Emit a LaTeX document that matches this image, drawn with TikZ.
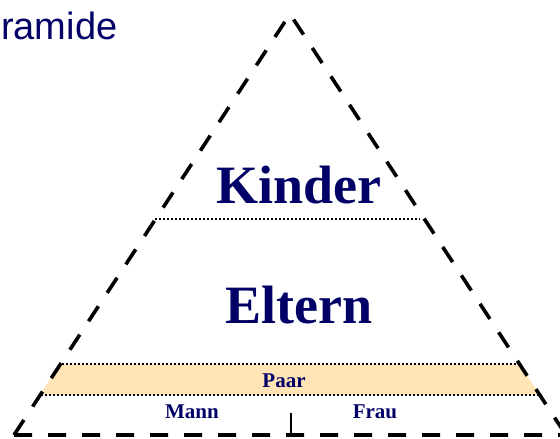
\documentclass[tikz,border=0pt]{standalone}
\usepackage{fontspec}
\setmainfont{Liberation Serif}
\newfontfamily\titlefont{Liberation Sans}
\definecolor{navy}{RGB}{0,0,102}
\definecolor{paarfill}{RGB}{255,228,181}
\begin{document}
\begin{tikzpicture}[x=1pt,y=-1pt,
  outline/.style={line width=3.6pt,dash pattern=on 18pt off 16pt,line join=miter},
  divider/.style={line width=2pt,dash pattern=on 2pt off 2pt},
  bigtext/.style={text=navy,font=\bfseries\fontsize{54}{60}\selectfont,anchor=base,inner sep=0pt},
  smalltext/.style={text=navy,font=\bfseries\fontsize{21}{24}\selectfont,anchor=base,inner sep=0pt}]
\useasboundingbox (0,0) rectangle (560,439);
\clip (0,0) rectangle (560,439);
% triangle corners
\coordinate (apex) at (290,14);
\coordinate (bl) at (14,435);
\coordinate (br) at (566,435);
% band coordinates
\coordinate (kl) at (155,219);
\coordinate (kr) at (420,219);
\coordinate (ptl) at (62,364);
\coordinate (ptr) at (516,364);
\coordinate (pbl) at (41,395);
\coordinate (pbr) at (539,395);
\fill[paarfill] (60,364) -- (519,364) -- (540,395) -- (40,395) -- cycle;
\draw[divider] (kl) -- (kr);
\draw[divider] (ptl) -- (ptr);
\draw[divider] (pbl) -- (pbr);
\coordinate (tt) at (291,413);
\coordinate (tb) at (291,435);
\draw[line width=2pt] (tt) -- (tb);
\draw[outline] (bl) -- (apex) -- (br) (bl) -- (br);
\node[anchor=base west,inner sep=0pt,text=navy,font=\titlefont\fontsize{38}{44}\selectfont] (title) at (1,39) {ramide};
\node[bigtext] (kinder) at (299,203) {Kinder};
\node[bigtext] (eltern) at (299,323) {Eltern};
\node[smalltext] (paar) at (284,387) {Paar};
\node[smalltext] (mann) at (192,418) {Mann};
\node[smalltext] (frau) at (375,418) {Frau};
\end{tikzpicture}
\end{document}
